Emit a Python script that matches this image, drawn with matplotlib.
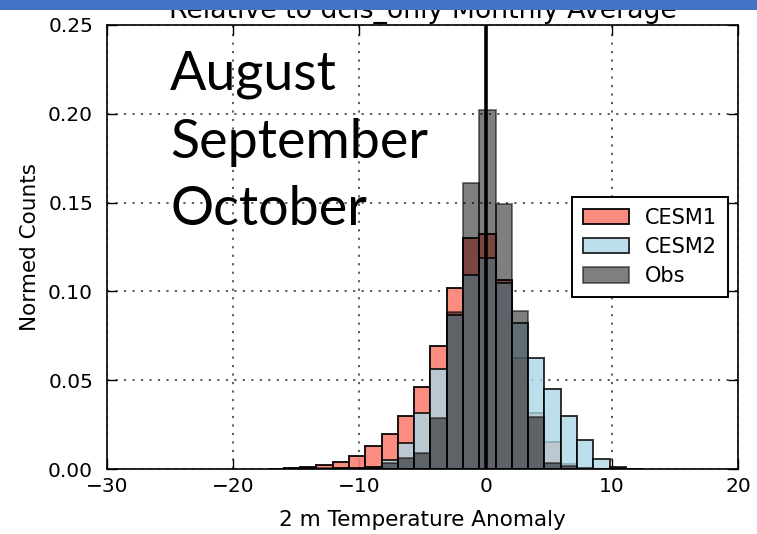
import numpy as np
import matplotlib
matplotlib.use("Agg")
import matplotlib.pyplot as plt
from matplotlib.patches import Rectangle, Patch

# Histogram bin edges (degrees) and normalised counts per bin
bin_edges = [-17.27, -15.98, -14.69, -13.40, -12.11, -10.82, -9.53, -8.24,
             -6.95, -5.66, -4.37, -3.08, -1.79, -0.50, 0.79, 2.08, 3.37,
             4.66, 5.95, 7.24, 8.53, 9.82, 11.11, 12.40]

cesm1 = [0.0002, 0.0006, 0.0010, 0.0021, 0.0041, 0.0075, 0.0128, 0.0197,
         0.0298, 0.0462, 0.0693, 0.1017, 0.1300, 0.1323, 0.1062, 0.0627,
         0.0318, 0.0150, 0.0030, 0.0006, 0.0001, 0.0, 0.0]

cesm2 = [0.0, 0.0, 0.0001, 0.0002, 0.0004, 0.0007, 0.0012, 0.0051,
         0.0148, 0.0317, 0.0561, 0.0867, 0.1092, 0.1186, 0.1045, 0.0824,
         0.0627, 0.0452, 0.0298, 0.0163, 0.0055, 0.0012, 0.0001]

obs = [0.0, 0.0003, 0.0008, 0.0005, 0.0004, 0.0006, 0.0010, 0.0032,
       0.0064, 0.0092, 0.0285, 0.0886, 0.1609, 0.2021, 0.1490, 0.0891,
       0.0295, 0.0036, 0.0019, 0.0005, 0.0002, 0.0008, 0.0002]

series_names = ["CESM1", "CESM2", "Obs"]
series_colors = ["salmon", "lightblue", "black"]
series_alpha = [0.9, 0.8, 0.5]

x_ticks = [-30, -20, -10, 0, 10, 20]
y_ticks = [0.00, 0.05, 0.10, 0.15, 0.20, 0.25]
season_months = ["August", "September", "October"]

fig = plt.figure(figsize=(7.57, 5.34), dpi=100)
ax = fig.add_axes([0.1413, 0.1217, 0.8337, 0.8315])

edges = np.asarray(bin_edges)
lefts = edges[:-1]
widths = np.diff(edges)

handles = []
for vals, name, col, a in zip([cesm1, cesm2, obs], series_names,
                              series_colors, series_alpha):
    ax.bar(lefts, vals, width=widths, align="edge", color=col, alpha=a,
           edgecolor="black", linewidth=1.4, zorder=2)
    handles.append(Patch(facecolor=col, edgecolor="black", alpha=a,
                         linewidth=1.4, label=name))

ax.axvline(0, color="black", linewidth=2.6, zorder=4)

ax.set_xlim(-30, 20)
ax.set_ylim(0, 0.25)
ax.set_xticks(x_ticks)
ax.set_yticks(y_ticks)
ax.set_xticklabels([f"\u2212{abs(t)}" if t < 0 else str(t) for t in x_ticks])
ax.set_yticklabels([f"{t:.2f}" for t in y_ticks])
ax.tick_params(direction="in", top=True, right=True, length=7, width=1,
               labelsize=14.5)
ax.tick_params(axis="x", pad=6)
ax.tick_params(axis="y", pad=10)
ax.grid(True, color="0.3", linestyle=(0, (1.2, 3.5)), linewidth=1.3, zorder=1)
ax.set_axisbelow(True)
for s in ax.spines.values():
    s.set_linewidth(1.2)

ax.set_xlabel("2 m Temperature Anomaly", fontsize=15.5, labelpad=10)
ax.set_ylabel("Normed Counts", fontsize=15.5, labelpad=6)
ax.set_title("Relative to dcis_only Monthly Average", fontsize=19.3, pad=5)

leg = ax.legend(handles=handles, loc="center right", fontsize=15,
                fancybox=False, framealpha=1, edgecolor="black",
                handlelength=2.2, handleheight=0.75, borderpad=0.5,
                labelspacing=0.45, handletextpad=0.8)
leg.get_frame().set_linewidth(1.4)

for m, yb in zip(season_months, [0.8315, 0.7036, 0.5787]):
    fig.text(0.2246, yb, m, fontsize=38.8, family="Lato", va="baseline",
             ha="left", color="black", zorder=6)

# slide header band across the top
fig.patches.append(Rectangle((0, 1 - 10 / 534), 1, 10 / 534,
                             transform=fig.transFigure, facecolor="#4472C4",
                             edgecolor="none", zorder=10))

fig.savefig("out.png", dpi=100)
